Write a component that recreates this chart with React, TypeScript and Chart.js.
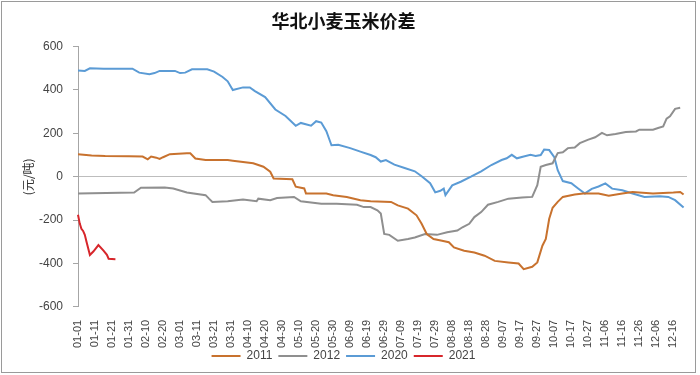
import React, { useEffect, useRef } from "react";
import { Chart, registerables } from "chart.js";

Chart.register(...registerables);

// Category axis: daily dates of a (leap-year) calendar, labelled every 10 days
const monthLengths = [31, 29, 31, 30, 31, 30, 31, 31, 30, 31, 30, 31];
const lastLabel = "12-24";

const dates2011 = ["01-01","01-09","01-17","01-31","02-08","02-11","02-13","02-16","02-18","02-20","02-24","03-05","03-07","03-10","03-16","03-29","04-01","04-13","04-19","04-23","04-25","05-06","05-08","05-13","05-14","05-26","05-30","06-07","06-15","06-21","07-03","07-07","07-13","07-18","07-21","07-24","07-28","08-02","08-06","08-09","08-15","08-21","08-27","09-02","09-10","09-16","09-19","09-24","09-27","09-30","10-02","10-04","10-06","10-09","10-12","10-19","10-24","11-02","11-08","11-16","11-22","12-04","12-16","12-20","12-22"];
const values2011 = [104,98,96,95,93,80,93,88,82,90,104,108,108,84,77,77,74,62,46,23,-8,-12,-46,-54,-77,-77,-85,-93,-108,-113,-116,-132,-147,-178,-217,-264,-287,-295,-302,-326,-341,-349,-364,-388,-395,-400,-426,-415,-395,-318,-287,-194,-143,-116,-93,-82,-77,-77,-88,-77,-70,-77,-73,-70,-82];

const dates2012 = ["01-01","02-03","02-07","02-21","02-26","03-05","03-16","03-18","03-20","03-29","04-07","04-15","04-16","04-23","04-27","05-07","05-11","05-23","06-01","06-13","06-17","06-21","06-25","06-27","06-29","07-02","07-07","07-13","07-17","07-23","07-30","08-05","08-11","08-14","08-18","08-21","08-25","08-29","09-04","09-10","09-18","09-24","09-27","09-29","10-02","10-06","10-09","10-12","10-15","10-19","10-22","10-27","10-31","11-04","11-07","11-12","11-18","11-24","11-26","12-04","12-07","12-10","12-12","12-14","12-17","12-20"];
const values2012 = [-77,-73,-51,-50,-54,-73,-85,-101,-116,-113,-105,-113,-101,-108,-98,-93,-113,-124,-124,-129,-140,-140,-155,-170,-264,-268,-295,-287,-280,-264,-268,-256,-248,-233,-217,-186,-163,-129,-116,-101,-96,-93,-39,46,54,62,109,113,132,135,155,171,182,202,191,197,206,209,217,217,225,232,268,279,313,318];

const dates2020 = ["01-01","01-05","01-08","01-16","02-02","02-06","02-12","02-15","02-18","02-27","03-01","03-04","03-08","03-17","03-21","03-26","03-29","04-01","04-07","04-11","04-14","04-20","04-26","05-02","05-08","05-11","05-17","05-20","05-23","05-26","05-29","06-02","06-09","06-15","06-21","06-24","06-27","06-30","07-05","07-11","07-17","07-21","07-26","07-29","08-01","08-03","08-04","08-08","08-13","08-19","08-25","08-31","09-06","09-09","09-12","09-15","09-19","09-23","09-26","09-29","10-01","10-04","10-07","10-09","10-12","10-17","10-21","10-25","10-29","11-02","11-06","11-10","11-16","11-22","11-29","12-08","12-13","12-17","12-22"];
const values2020 = [490,488,500,498,498,480,473,478,488,488,478,480,495,495,485,460,440,400,412,412,395,367,310,280,235,248,235,256,250,210,145,147,132,116,100,90,70,77,56,40,25,2,-30,-72,-65,-55,-85,-40,-23,0,25,54,77,85,101,85,93,101,96,100,125,123,90,30,-20,-30,-54,-77,-56,-45,-31,-55,-62,-77,-93,-90,-93,-108,-142];

const dates2021 = ["01-01","01-02","01-03","01-04","01-05","01-06","01-08","01-10","01-13","01-16","01-18","01-19","01-23"];
const values2021 = [-175,-215,-240,-250,-268,-300,-361,-345,-315,-341,-360,-378,-380];

const seriesNames = ["2011", "2012", "2020", "2021"];
const seriesColors = ["#C8722E", "#8F8F8F", "#5B9BD5", "#D7262B"];

const yMin = -600;
const yMax = 600;
const yStep = 200;

function buildLabels(): string[] {
  const out: string[] = [];
  for (let m = 0; m < 12; m++) {
    for (let d = 1; d <= monthLengths[m]; d++) {
      const s = String(m + 1).padStart(2, "0") + "-" + String(d).padStart(2, "0");
      out.push(s);
      if (s === lastLabel) return out;
    }
  }
  return out;
}

export default function App() {
  const ref = useRef<HTMLCanvasElement | null>(null);

  useEffect(() => {
    if (!ref.current) return;
    const labels = buildLabels();
    const pairs = [
      [dates2011, values2011],
      [dates2012, values2012],
      [dates2020, values2020],
      [dates2021, values2021],
    ] as [string[], number[]][];

    const frame = {
      id: "frame",
      afterLayout(chart: any) {
        // let the (shortened) x axis draw its full rotated labels
        const xs = chart.scales.x;
        if (xs) xs.bottom += 14;
      },
      afterDraw(chart: any) {
        const c = chart.ctx;
        c.save();
        c.strokeStyle = "#9a9a9a";
        c.lineWidth = 1;
        c.strokeRect(1.5, 1.5, 694, 371);
        c.restore();
      },
    };

    const chart = new Chart(ref.current, {
      type: "line",
      data: {
        labels,
        datasets: pairs.map(([ds, vs], i) => ({
          label: seriesNames[i],
          data: ds.map((d, j) => ({ x: d, y: vs[j] })) as any,
          borderColor: seriesColors[i],
          backgroundColor: seriesColors[i],
          borderWidth: 2,
          pointRadius: 0,
          tension: 0,
          fill: false,
        })),
      },
      options: {
        responsive: false,
        animation: false,
        devicePixelRatio: 1,
        layout: { padding: { left: 0, right: 13, top: 2, bottom: 3 } },
        plugins: {
          title: {
            display: true,
            text: "华北小麦玉米价差",
            color: "#111",
            font: { family: "'Noto Sans CJK SC', sans-serif", size: 18, weight: "bold" },
            padding: { top: 8, bottom: 15 },
          },
          legend: {
            position: "bottom",
            labels: {
              usePointStyle: true,
              pointStyle: "line",
              pointStyleWidth: 29,
              color: "#444",
              font: { family: "'Liberation Sans', Arial, sans-serif", size: 12 },
              padding: 6,
            },
          },
          tooltip: { enabled: false },
        },
        scales: {
          x: {
            type: "category",
            grid: { display: false },
            border: { display: false },
            afterFit: (scale: any) => {
              scale.height -= 9;
            },
            ticks: {
              autoSkip: false,
              minRotation: 90,
              maxRotation: 90,
              color: "#444",
              font: { family: "'Liberation Sans', Arial, sans-serif", size: 11 },
              padding: 5,
              callback: (_v: any, idx: number) => (idx % 10 === 0 ? labels[idx] : null),
            },
          },
          y: {
            min: yMin,
            max: yMax,
            afterFit: (scale: any) => {
              scale.width = 78;
            },
            ticks: {
              stepSize: yStep,
              color: "#444",
              font: { family: "'Liberation Sans', Arial, sans-serif", size: 12 },
              padding: 10,
            },
            grid: {
              color: (ctx: any) => (ctx.tick && ctx.tick.value === 0 ? "#bdbdbd" : "rgba(0,0,0,0)"),
              tickColor: "#a6a6a6",
              tickLength: 5,
            },
            border: { display: true, color: "#a6a6a6" },
            title: {
              display: true,
              text: "(元/吨)",
              color: "#333",
              font: { family: "'Noto Sans CJK SC', sans-serif", size: 12 },
              padding: { top: 21, bottom: 0 },
            },
          },
        },
      },
      plugins: [frame],
    });
    return () => chart.destroy();
  }, []);

  return (
    <div style={{ position: "fixed", left: 0, top: 0, width: 700, height: 375, background: "#fff" }}>
      <canvas ref={ref} width={700} height={375} style={{ width: 700, height: 375, display: "block" }} />
    </div>
  );
}
